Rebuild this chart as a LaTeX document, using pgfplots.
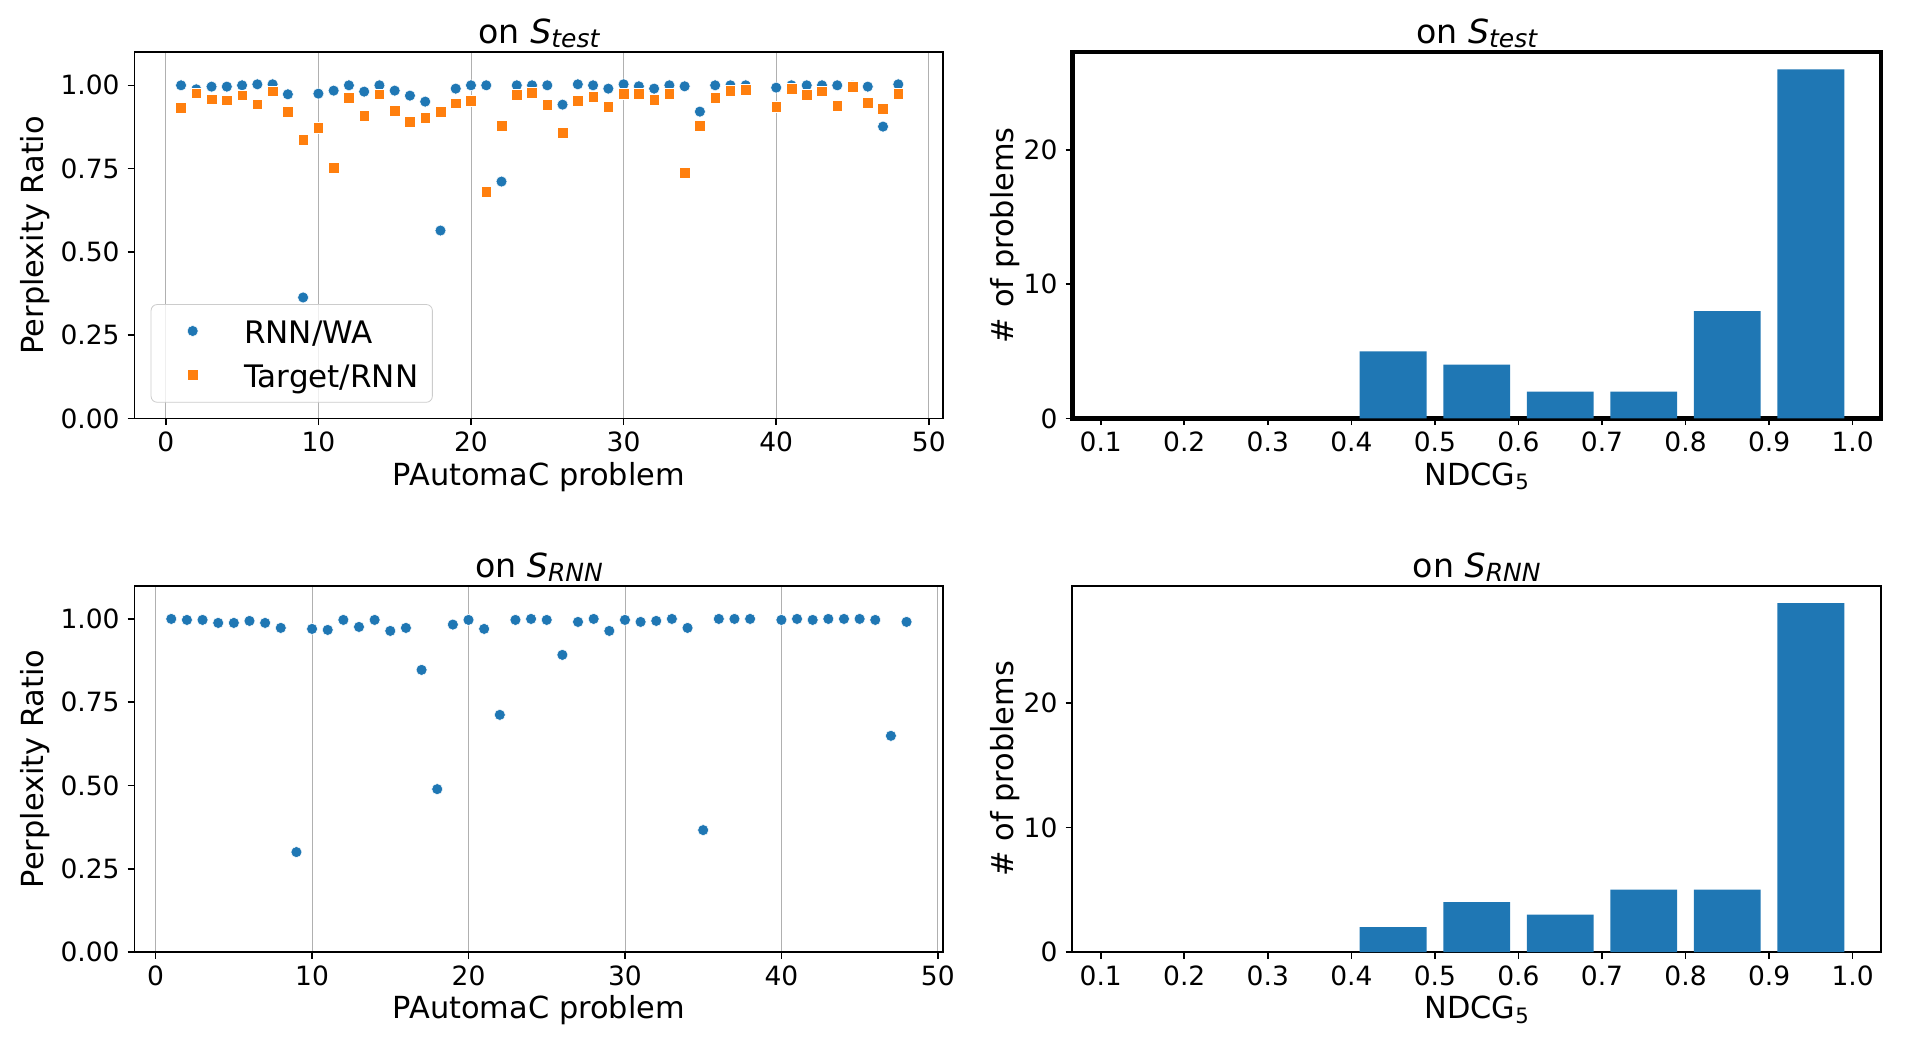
\documentclass[border=0pt]{standalone}
\usepackage{fontspec}
\setmainfont{DejaVu Sans}
\usepackage{pgfplots}
\pgfplotsset{compat=1.18}
\definecolor{tabblue}{HTML}{1F77B4}
\definecolor{taborange}{HTML}{FF7F0E}
\definecolor{gridgray}{HTML}{B0B0B0}
\newcommand{\subit}[1]{\raisebox{-2.3pt}{\fontsize{12.5}{14}\selectfont\itshape #1}}
\newcommand{\ttl}[1]{\fontsize{16.6}{19}\selectfont on \textit{S}\subit{#1}}
\pgfplotsset{
  myaxis/.style={
    scale only axis,
    anchor=south west,
    axis line style={line width=0.9pt},
    tick align=outside,
    tick pos=left,
    major tick length=3.4pt,
    every tick/.style={black, line width=0.8pt},
    tick label style={font=\fontsize{13.25}{15}\selectfont},
    label style={font=\fontsize{15.2}{18}\selectfont},
    every axis title/.style={at={(0.5,1)}, anchor=base, yshift=4.3pt, inner sep=0pt},
    /pgf/number format/assume math mode=true,
    xticklabel style={anchor=north, inner sep=0pt, yshift=-3.3pt},
    yticklabel style={anchor=east, inner sep=0pt, xshift=-3.85pt},
    xlabel style={at={(axis description cs:0.5,0)}, anchor=base, inner sep=0pt, yshift=-33.35pt},
  },
  scat/.style={myaxis, width=404.4pt, height=183.2pt, ymin=0, ymax=1.1,
    ytick={0,0.25,0.5,0.75,1}, xtick={0,10,20,30,40,50},
    yticklabel style={/pgf/number format/.cd, fixed, fixed zerofill, precision=2},
    xmajorgrids, major grid style={gridgray, line width=0.45pt},
    ylabel={Perplexity Ratio}, xlabel={PAutomaC problem},
    ylabel style={at={(axis description cs:-0.1128,0.5)}, anchor=base, inner sep=0pt},
  },
  hist/.style={myaxis, width=404.35pt, height=183.2pt, ymin=0,
    xmin=0.066, xmax=1.034, xtick={0.1,0.2,0.3,0.4,0.5,0.6,0.7,0.8,0.9,1.0},
    xticklabel style={/pgf/number format/.cd, fixed, fixed zerofill, precision=1},
    ytick={0,10,20},
    ylabel={\# of problems}, xlabel={NDCG\raisebox{-2.3pt}{\fontsize{10.6}{12}\selectfont 5}},
    ylabel style={at={(axis description cs:-0.0726,0.5)}, anchor=base, inner sep=0pt},
  },
  bluemk/.style={only marks, mark=*, mark size=2.75pt, color=tabblue, mark options={draw=white, line width=0.25pt, fill=tabblue, mark size=2.75pt}},
  orangemk/.style={only marks, mark=square*, mark size=2.65pt, color=taborange, mark options={draw=white, line width=0.25pt, fill=taborange, mark size=2.65pt}},
  bars/.style={ybar, bar width=0.08, bar shift=0pt, fill=tabblue, draw=none},
}
\begin{document}
\begin{tikzpicture}
\path[use as bounding box] (0,0) rectangle (960pt,523pt);
% ---------- top left ----------
\begin{axis}[scat, at={(67.25pt,313.8pt)}, xmin=-2.05, xmax=50.95,
  title={\ttl{test}},
  legend style={at={(axis description cs:0.02,0.043)}, anchor=south west,
    draw=black!20, rounded corners=3pt, fill=white, fill opacity=0.8, draw opacity=1, text opacity=1,
    inner xsep=7pt, inner ysep=4pt, row sep=3.15pt,
    font=\fontsize{15.5}{18}\selectfont,
    nodes={inner sep=0pt, text height=15.3pt, text depth=3.55pt}},
  legend cell align=left,
  legend image code/.code={\path[draw=none,fill=none] (0pt,0pt) -- (39.5pt,0pt); \path[#1, fill opacity=1, draw opacity=1] plot[only marks] coordinates {(13.8pt,0.2pt)};},
]
\addplot[bluemk] coordinates {
(1,1.000) (2,0.988) (3,0.996) (4,0.996) (5,1.000) (6,1.003) (7,1.003) (8,0.973) (9,0.363) (10,0.975)
(11,0.984) (12,1.000) (13,0.981) (14,1.000) (15,0.984) (16,0.969) (17,0.951) (18,0.564) (19,0.990) (20,1.000)
(21,1.000) (22,0.711) (23,1.000) (24,1.000) (25,1.000) (26,0.942) (27,1.003) (28,1.000) (29,0.990) (30,1.003)
(31,0.997) (32,0.990) (33,1.000) (34,0.997) (35,0.921) (36,1.000) (37,1.000) (38,1.000) (40,0.993)
(41,1.000) (42,1.000) (43,1.000) (44,1.000) (45,0.998) (46,0.996) (47,0.876) (48,1.003)};
\addlegendentry{RNN/WA}
\addplot[orangemk] coordinates {
(1,0.933) (2,0.976) (3,0.958) (4,0.955) (5,0.970) (6,0.943) (7,0.982) (8,0.921) (9,0.837) (10,0.873)
(11,0.753) (12,0.963) (13,0.909) (14,0.973) (15,0.924) (16,0.891) (17,0.903) (18,0.921) (19,0.946) (20,0.954)
(21,0.681) (22,0.879) (23,0.972) (24,0.978) (25,0.942) (26,0.858) (27,0.954) (28,0.966) (29,0.936) (30,0.975)
(31,0.975) (32,0.957) (33,0.975) (34,0.738) (35,0.879) (36,0.963) (37,0.984) (38,0.987) (40,0.936)
(41,0.990) (42,0.972) (43,0.982) (44,0.939) (45,0.996) (46,0.948) (47,0.930) (48,0.975)};
\addlegendentry{Target/RNN}
\end{axis}
% ---------- top right ----------
\begin{axis}[hist, at={(536.15pt,313.8pt)}, ymax=27.3,
  axis line style={line width=2.2pt},
  title={\ttl{test}}]
\addplot[bars] coordinates {(0.45,5) (0.55,4) (0.65,2) (0.75,2) (0.85,8) (0.95,26)};
\end{axis}
% ---------- bottom left ----------
\begin{axis}[scat, at={(67.25pt,47pt)}, xmin=-1.35, xmax=50.35,
  title={\ttl{RNN}}]
\addplot[bluemk] coordinates {
(1,1.000) (2,0.997) (3,0.997) (4,0.988) (5,0.988) (6,0.994) (7,0.988) (8,0.973) (9,0.300) (10,0.970)
(11,0.967) (12,0.997) (13,0.976) (14,0.997) (15,0.964) (16,0.973) (17,0.847) (18,0.489) (19,0.983) (20,0.997)
(21,0.970) (22,0.712) (23,0.997) (24,1.000) (25,0.997) (26,0.892) (27,0.991) (28,1.000) (29,0.964) (30,0.997)
(31,0.991) (32,0.994) (33,1.000) (34,0.973) (35,0.366) (36,1.000) (37,1.000) (38,1.000) (40,0.997)
(41,1.000) (42,0.997) (43,1.000) (44,1.000) (45,1.000) (46,0.997) (47,0.649) (48,0.991)};
\end{axis}
% ---------- bottom right ----------
\begin{axis}[hist, at={(536.15pt,47pt)}, ymax=29.4,
  title={\ttl{RNN}}]
\addplot[bars] coordinates {(0.45,2) (0.55,4) (0.65,3) (0.75,5) (0.85,5) (0.95,28)};
\end{axis}
\end{tikzpicture}
\end{document}
